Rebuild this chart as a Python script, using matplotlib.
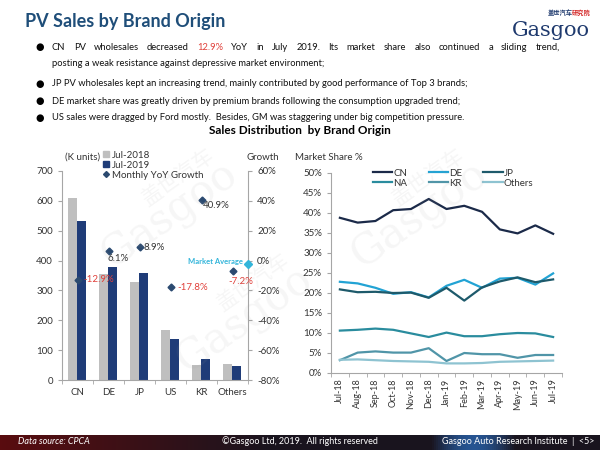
import matplotlib
matplotlib.use("Agg")
import matplotlib.pyplot as plt
from matplotlib.lines import Line2D
from matplotlib import font_manager
import numpy as np

# ---------------- data ----------------
brands = ["CN", "DE", "JP", "US", "KR", "Others"]
sales_2018 = [608, 355, 328, 168, 50, 52]
sales_2019 = [532, 380, 357, 138, 70, 48]
yoy_growth = [-12.9, 6.1, 8.9, -17.8, 40.9, -7.2]
market_avg = -2.6

months = ["Jul-18", "Aug-18", "Sep-18", "Oct-18", "Nov-18", "Dec-18", "Jan-19",
          "Feb-19", "Mar-19", "Apr-19", "May-19", "Jun-19", "Jul-19"]
share_cn = [38.8, 37.6, 38.0, 40.7, 41.0, 43.5, 41.0, 41.8, 40.3, 35.9, 34.9, 36.9, 34.8]
share_de = [22.8, 22.4, 21.3, 19.8, 20.2, 18.9, 21.8, 23.3, 21.3, 23.6, 23.8, 22.1, 24.9]
share_jp = [20.9, 20.2, 20.3, 20.0, 20.1, 18.8, 21.3, 18.1, 21.4, 22.9, 23.9, 22.7, 23.4]
share_na = [10.6, 10.8, 11.1, 10.8, 9.9, 9.0, 10.1, 9.2, 9.2, 9.7, 10.0, 9.9, 9.0]
share_kr = [3.2, 5.1, 5.4, 5.1, 5.1, 6.2, 3.0, 5.0, 4.7, 4.7, 3.8, 4.5, 4.5]
share_others = [3.3, 3.4, 3.2, 3.0, 2.9, 2.8, 2.4, 2.4, 2.5, 2.8, 2.9, 3.0, 3.1]

plt.rcParams['font.family'] = ['Lato', 'Noto Sans CJK SC', 'DejaVu Sans']

installed = {f.name for f in font_manager.fontManager.ttflist}
body_font = "Liberation Sans Narrow" if "Liberation Sans Narrow" in installed else "Lato"

W, H = 600, 450
fig = plt.figure(figsize=(6, 4.5), dpi=100)
fig.patch.set_facecolor("white")


def fx(x):
    return x / W


def fy(y):
    return 1 - y / H


renderer = fig.canvas.get_renderer()


def width_px(t):
    return t.get_window_extent(renderer).width


# ---------------- watermarks ----------------
for (wx, wy, s) in [(170, 215, 30), (420, 215, 30), (245, 320, 30)]:
    fig.text(fx(wx), fy(wy), "Gasgoo", fontsize=s, color="#9a9a9a", alpha=0.09,
             rotation=35, ha="center", va="center", family="DejaVu Serif", zorder=0)
    fig.text(fx(wx + 8), fy(wy - 38), "盖世汽车", fontsize=s * 0.5, color="#9a9a9a", alpha=0.09,
             rotation=35, ha="center", va="center", family=["Noto Sans CJK SC"], zorder=0)

# ---------------- header ----------------
fig.text(fx(25), fy(22), "PV Sales by Brand Origin", fontsize=13, fontweight="bold",
         color="#1F4E79", ha="left", va="center")

# logo
fig.text(fx(590), fy(30), "Gasgoo", fontsize=15, color="#1F3A6E", ha="right", va="center",
         family="DejaVu Serif")
fig.text(fx(548), fy(12), "盖世汽车", fontsize=4.5, color="#1F3A6E", ha="left", va="center",
         family=["Noto Sans CJK SC"], fontweight="bold")
fig.text(fx(572), fy(12), "研究院", fontsize=4.5, color="#D42A2A", ha="left", va="center",
         family=["Noto Sans CJK SC"], fontweight="bold")

# bullets
fs = 8.0
probe = fig.text(0, 0, "JP PV wholesales kept an increasing trend, mainly contributed by good performance of Top 3 brands;",
                 fontsize=fs, family=body_font)
fs = fs * 416 / width_px(probe)
probe.remove()

bx, tx = 40, 52
for yy in [47, 84, 101, 118]:
    fig.text(fx(bx), fy(yy), "●", fontsize=7, color="black", ha="center", va="center",
             family="DejaVu Sans")

# line 1 justified with red number
words = ["CN", "PV", "wholesales", "decreased", "12.9%", "YoY", "in", "July", "2019.", "Its", "market",
         "share", "also", "continued", "a", "sliding", "trend,"]
ts = []
for w_ in words:
    t = fig.text(0, fy(47), w_, fontsize=fs, color="#E0403A" if w_ == "12.9%" else "#111111",
                 ha="left", va="center", family=body_font)
    ts.append(t)
widths = [width_px(t) for t in ts]
gap = (560 - tx - sum(widths)) / (len(words) - 1)
x = tx
for t, wdt in zip(ts, widths):
    t.set_x(fx(x))
    x += wdt + gap

other_lines = [
    (64, "posting a weak resistance against depressive market environment;"),
    (84, "JP PV wholesales kept an increasing trend, mainly contributed by good performance of Top 3 brands;"),
    (101, "DE market share was greatly driven by premium brands following the consumption upgraded trend;"),
    (118, "US sales were dragged by Ford mostly.  Besides, GM was staggering under big competition pressure."),
]
for yy, s in other_lines:
    fig.text(fx(tx), fy(yy), s, fontsize=fs, color="#111111", ha="left", va="center",
             family=body_font)

fig.text(fx(300), fy(131), "Sales Distribution  by Brand Origin", fontsize=8.5, fontweight="bold",
         color="black", ha="center", va="center")

# ---------------- left chart ----------------
tick_color = "#333333"
spine_color = "#A6A6A6"
ax = fig.add_axes([fx(62), fy(380), 186 / W, 209 / H])
ax.patch.set_alpha(0)
xi = np.arange(len(brands))
bw = 0.29
ax.bar(xi - 0.16, sales_2018, bw, color="#BFBFBF", zorder=2)
ax.bar(xi + 0.14, sales_2019, bw, color="#1F3C78", zorder=2)
ax.set_xlim(-0.5, len(brands) - 0.5)
ax.set_ylim(0, 700)
ax.set_yticks(range(0, 701, 100))
ax.set_xticks(xi)
ax.set_xticklabels(brands)
ax.set_xticks(np.arange(-0.5, len(brands), 1), minor=True)
ax.tick_params(axis="x", which="major", length=0, labelsize=7, colors=tick_color, pad=6)
ax.tick_params(axis="x", which="minor", length=3, color=spine_color)
ax.tick_params(axis="y", length=3, color=spine_color, labelsize=7, labelcolor=tick_color)
for sp in ["top", "right"]:
    ax.spines[sp].set_visible(False)
for sp in ["left", "bottom"]:
    ax.spines[sp].set_color(spine_color)

ax2 = ax.twinx()
ax2.set_ylim(-80, 60)
ax2.set_yticks(range(-80, 61, 20))
ax2.set_yticklabels([f"{v}%" for v in range(-80, 61, 20)])
ax2.tick_params(axis="y", length=3, color=spine_color, labelsize=7, labelcolor=tick_color)
for sp in ["top", "left", "bottom"]:
    ax2.spines[sp].set_visible(False)
ax2.spines["right"].set_color(spine_color)
ax2.plot(xi, yoy_growth, linestyle="none", marker="D", markersize=3.5, color="#2B4A70", zorder=3)
offsets = {
    "CN": (4, 0, "left", "center"),
    "DE": (-1, -5, "left", "center"),
    "JP": (3, 0, "left", "center"),
    "US": (5, 0, "left", "center"),
    "KR": (1, -4, "left", "center"),
    "Others": (-3, -7, "left", "center"),
}
for i, (b, g) in enumerate(zip(brands, yoy_growth)):
    dx, dy, ha, va = offsets[b]
    ax2.annotate(f"{g}%", (i, g), xytext=(dx, dy), textcoords="offset points", ha=ha, va=va,
                 fontsize=7, color="#E0403A" if g < 0 else "#333333", zorder=4)
ax2.plot([len(brands) - 0.5], [market_avg], marker="D", markersize=4, color="#33B5DA",
         clip_on=False, zorder=5)
ax2.annotate("Market Average", (len(brands) - 0.5, market_avg), xytext=(-4, 2),
             textcoords="offset points", ha="right", va="center", fontsize=5.5,
             color="#33B5DA", fontweight="bold")

fig.text(fx(65), fy(157), "(K units)", fontsize=7, color=tick_color, ha="left", va="center")
fig.text(fx(263), fy(157), "Growth", fontsize=7, color=tick_color, ha="center", va="center")

handles = [
    Line2D([], [], linestyle="none", marker="s", markersize=5, color="#BFBFBF", label="Jul-2018"),
    Line2D([], [], linestyle="none", marker="s", markersize=5, color="#1F3C78", label="Jul-2019"),
    Line2D([], [], linestyle="none", marker="D", markersize=3, color="#2B4A70", label="Monthly YoY Growth"),
]
fig.legend(handles=handles, loc="upper left", bbox_to_anchor=(fx(98), fy(146)), frameon=False,
           fontsize=7, handlelength=0.6, handletextpad=0.3, labelspacing=0.1, borderpad=0,
           labelcolor=tick_color)

# ---------------- right chart ----------------
axr = fig.add_axes([fx(331), fy(373), 231 / W, 200 / H])
axr.patch.set_alpha(0)
xm = np.arange(len(months))
series = [
    ("CN", share_cn, "#1B2A49"),
    ("DE", share_de, "#22A3D4"),
    ("JP", share_jp, "#1E5A6B"),
    ("NA", share_na, "#2A8C9E"),
    ("KR", share_kr, "#5095A8"),
    ("Others", share_others, "#8EC3D1"),
]
lines = {}
for name, vals, col in series:
    lines[name], = axr.plot(xm, vals, color=col, linewidth=1.6, label=name)
axr.set_xlim(-0.5, len(months) - 0.5)
axr.set_ylim(0, 50)
axr.set_yticks(range(0, 51, 5))
axr.set_yticklabels([f"{v}%" for v in range(0, 51, 5)])
axr.set_xticks(xm)
axr.set_xticklabels(months, rotation=90)
axr.set_xticks(np.arange(-0.5, len(months), 1), minor=True)
axr.tick_params(axis="x", which="major", length=0, labelsize=6.5, colors=tick_color, pad=4)
axr.tick_params(axis="x", which="minor", length=3, color=spine_color)
axr.tick_params(axis="y", length=3, color=spine_color, labelsize=7, labelcolor=tick_color)
for sp in ["top", "right"]:
    axr.spines[sp].set_visible(False)
for sp in ["left", "bottom"]:
    axr.spines[sp].set_color(spine_color)
fig.text(fx(295), fy(158), "Market Share %", fontsize=7, color=tick_color, ha="left", va="center")
order = ["CN", "NA", "DE", "KR", "JP", "Others"]
axr.legend([lines[n] for n in order], order, loc="upper left", bbox_to_anchor=(fx(368), fy(164)),
           bbox_transform=fig.transFigure,
           ncol=3, frameon=False, fontsize=7, handlelength=2.0, handletextpad=0.1,
           columnspacing=2.2, labelspacing=0.1, borderpad=0, labelcolor=tick_color)

# ---------------- footer ----------------
fax = fig.add_axes([0, 0, 1, 15 / H])
fax.set_axis_off()
grad = np.zeros((2, 300, 3))
left = np.array([0.35, 0.05, 0.06])
mid = np.array([0.10, 0.08, 0.12])
for j in range(300):
    t = j / 299
    c = left * max(0, 1 - t * 2.2) + mid * min(1, t * 2.2)
    if 0.72 < t < 0.86:
        c = c + np.array([0.05, 0.25, 0.45]) * np.sin((t - 0.72) / 0.14 * np.pi)
    grad[:, j, :] = np.clip(c, 0, 1)
fax.imshow(grad, aspect="auto", extent=[0, 1, 0, 1])
fax.set_xlim(0, 1)
fax.set_ylim(0, 1)
fig.text(fx(18), fy(442), "Data source: CPCA", fontsize=6.5, color="white", style="italic",
         ha="left", va="center")
fig.text(fx(300), fy(441), "©Gasgoo Ltd, 2019.  All rights reserved", fontsize=6.5, color="white",
         ha="center", va="center")
fig.text(fx(595), fy(441), "Gasgoo Auto Research Institute  |  <5>", fontsize=6.5, color="white",
         ha="right", va="center")

fig.savefig("out.png", dpi=100)
